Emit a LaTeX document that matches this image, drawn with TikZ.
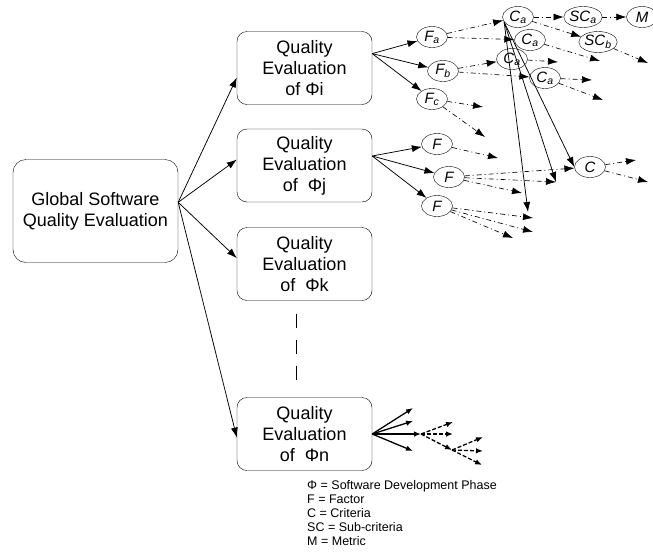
\documentclass[tikz,border=0pt]{standalone}
\usepackage{fontspec}
\setmainfont{Liberation Sans}
\usetikzlibrary{arrows.meta,shapes.geometric}
\tikzstyle{phase} = [draw,rounded corners=10pt,minimum width=135pt,minimum height=73pt,align=center,font=\fontsize{18}{21}\selectfont]
\tikzstyle{topbox} = [phase,rounded corners=13pt,minimum width=165pt,minimum height=103pt]
\tikzstyle{item} = [draw,ellipse,minimum width=31pt,minimum height=21pt,inner sep=0pt,font=\fontsize{15}{15}\selectfont\itshape]
\tikzstyle{feed} = [->,line width=0.75pt]
\tikzstyle{flow} = [->,line width=0.65pt,dash pattern=on 5pt off 3pt on 1pt off 3pt]
\tikzstyle{fan} = [-{Latex[length=7pt,width=5.5pt]},line width=1.3pt]
\tikzstyle{fandash} = [fan,dash pattern=on 4pt off 2pt]
\tikzstyle{phasegap} = [line width=1.5pt,dash pattern=on 14pt off 12pt]

\begin{document}
\begin{tikzpicture}[x=1pt,y=-1pt,>={Latex[length=10pt,width=7pt]}]
\useasboundingbox (0,0) rectangle (653,552);
%%% Global evaluation and the phases
\node[topbox] (glob) at (95.5,211) {Global Software\\Quality Evaluation};
\foreach \p/\y/\t in {i/68/of Φi, j/165.5/of~ Φj, k/264/of~ Φk, n/434/of~ Φn} {
    \node[phase] at (304.5,\y) (qe\p) {Quality\\Evaluation\\\t};
}
\foreach \p/\a in {i/188,j/175,k/175,n/183}
    \draw[feed] (glob.6) -- (qe\p.\a);
\draw[phasegap,shorten <=13pt,shorten >=8pt] (qek.258) -- (qen.102);

%%% Factors, criteria, sub-criteria of phase i
\node[item] (fa) at (432,37) {F\textsubscript{a}};
\node[item] (fb) at (443,71) {F\textsubscript{b}};
\node[item] (fc) at (432,99) {F\textsubscript{c}};
\node[item] (ca1) at (518,17) {C\textsubscript{a}};
\node[item] (ca2) at (530,40) {C\textsubscript{a}};
\node[item] (ca3) at (512,59) {C\textsubscript{a}};
\node[item] (ca4) at (545,78) {C\textsubscript{a}};
\node[item] (sca) at (583,17) {SC\textsubscript{a}};
\node[item] (scb) at (598,42) {SC\textsubscript{b}};
\node[item] (m) at (642,17) {M};
%%% Factors and criterion of phase j
\node[item] (fj1) at (437,144) {F};
\node[item] (fj2) at (449,177) {F};
\node[item] (fj3) at (437,206) {F};
\node[item] (c) at (590,167) {C};

% Free ends
\foreach \n/\x/\y in {ca2end/600/61, scbend/648/63, ca3end/558/62, ca4enda/592/80,
        ca4endb/603/100, fcenda/483/107, fcendb/485/137, fj1end/498/158,
        fj2enda/556/182, fj2endb/522/193, cenda/636/160, cendb/648/182,
        fj3enda/533/218, fj3endb/533/232, fj3endc/513/238, ca1end/528/212}
    \coordinate (\n) at (\x,\y);

\foreach \f in {fa,fb,fc}
    \draw[feed] (qei.12) -- (\f);
\foreach \f in {fj1,fj2,fj3}
    \draw[feed] (qej.8) -- (\f);

\draw[flow] (fa) -- (ca1);
\draw[flow] (fa) -- (ca2);
\draw[flow] (ca1) -- (sca);
\draw[flow] (sca) -- (m);
\draw[flow] (ca1) -- (scb);
\draw[flow] (ca2) -- (ca2end);
\draw[flow] (scb) -- (scbend);
\draw[flow] (fb) -- (ca3);
\draw[flow] (fb) -- (ca4);
\draw[flow] (ca3) -- (ca3end);
\foreach \e in {ca4enda,ca4endb} \draw[flow] (ca4) -- (\e);
\foreach \e in {fcenda,fcendb} \draw[flow] (fc) -- (\e);
\draw[flow] (fj1) -- (fj1end);
\foreach \e in {c,fj2enda,fj2endb} \draw[flow] (fj2) -- (\e);
\foreach \e in {cenda,cendb} \draw[flow] (c) -- (\e);
\foreach \e in {fj3enda,fj3endb,fj3endc} \draw[flow] (fj3) -- (\e);
% solid links down from the top criterion
\foreach \e in {c.west,fj2enda,ca1end} \draw[feed] (ca1.200) -- (\e);

%%% Tree of phase n
\coordinate (nsplit) at (421,434);
\coordinate (nsplitb) at (452,450);
\foreach \n/\x/\y in {nend1/413/408, nend2/413/421, nend3/413/451, nend4/453/422,
        nend5/453/434, nend6/483/437, nend7/483/451, nend8/482/465}
    \coordinate (\n) at (\x,\y);
\foreach \e in {nend1,nend2,nsplit,nend3} \draw[fan] (qen.east) -- (\e);
\foreach \e in {nend4,nend5,nsplitb} \draw[fandash] (nsplit) -- (\e);
\foreach \e in {nend6,nend7,nend8} \draw[fandash] (nsplitb) -- (\e);

%%% Legend
\node[anchor=north west,align=left,inner sep=0pt,font=\fontsize{12.5}{14}\selectfont] (legend) at (307,480)
    {Φ = Software Development Phase\\F = Factor\\C = Criteria\\SC = Sub-criteria\\M = Metric};
\end{tikzpicture}
\end{document}
